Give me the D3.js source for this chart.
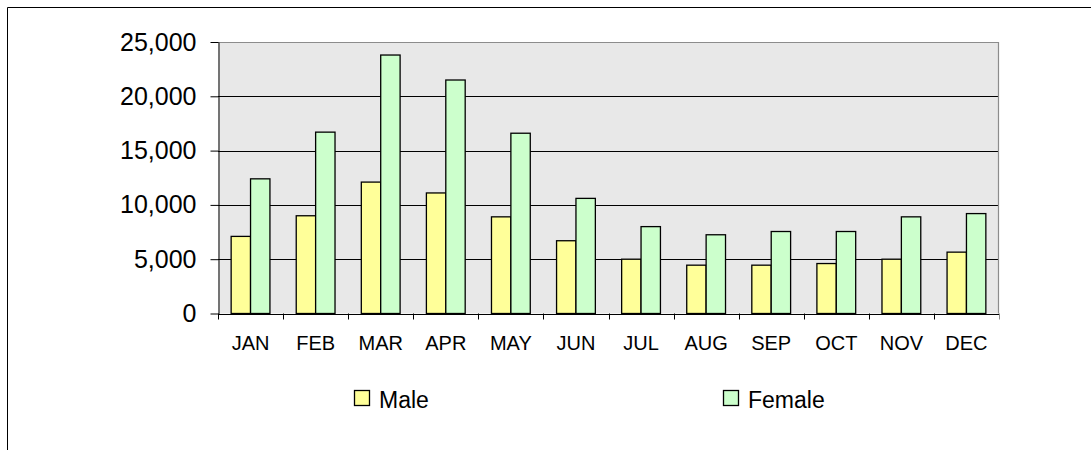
<!DOCTYPE html>
<html>
<head>
<meta charset="utf-8">
<script src="https://cdn.jsdelivr.net/npm/d3@7"></script>
<style>
  body { margin: 0; background: #fff; }
  svg { display: block; font-family: Arial, "Liberation Sans", sans-serif; }
</style>
</head>
<body>
<svg id="chart" width="1091" height="450"></svg>
<script>
// values
const months = ["JAN", "FEB", "MAR", "APR", "MAY", "JUN", "JUL", "AUG", "SEP", "OCT", "NOV", "DEC"];
const male = [7100, 9000, 12100, 11100, 8900, 6700, 5000, 4450, 4450, 4600, 5000, 5650];
const female = [12400, 16700, 23800, 21500, 16600, 10600, 8000, 7250, 7550, 7550, 8900, 9200];
const seriesNames = ["Male", "Female"];
const seriesColors = ["#ffff99", "#ccffcc"];
const yTicks = [0, 5000, 10000, 15000, 20000, 25000];

const svg = d3.select("#chart");

// plot box
const plotLeft = 218, plotRight = 999, plotTop = 42, plotBottom = 313.5;

// outer frame (only left and top edges show)
svg.append("path")
  .attr("d", "M7.5,450 L7.5,7.5 L1091,7.5")
  .attr("fill", "none").attr("stroke", "#000").attr("stroke-width", 1);

const x = d3.scaleBand().domain(months).range([plotLeft, plotRight]).padding(0);
const bw = x.bandwidth();
const x1 = d3.scaleBand().domain(seriesNames).range([bw * 0.202, bw * 0.798]).padding(0);
const y = d3.scaleLinear().domain([0, 25000]).range([plotBottom, plotTop]);

// plot background
svg.append("rect")
  .attr("x", plotLeft).attr("y", plotTop)
  .attr("width", plotRight - plotLeft).attr("height", plotBottom - plotTop)
  .attr("fill", "#e8e8e8");

// gridlines
svg.append("g").selectAll("line")
  .data(yTicks.filter(d => d > 0 && d < 25000))
  .join("line")
  .attr("x1", plotLeft).attr("x2", plotRight)
  .attr("y1", d => Math.round(y(d)) + 0.5).attr("y2", d => Math.round(y(d)) + 0.5)
  .attr("stroke", "#000").attr("stroke-width", 1);

// grey border top + right
svg.append("path")
  .attr("d", `M${plotLeft},${plotTop + 0.5} L${plotRight - 0.5},${plotTop + 0.5} L${plotRight - 0.5},${plotBottom}`)
  .attr("fill", "none").attr("stroke", "#8c8c8c").attr("stroke-width", 1.2);

// bars
const rows = months.map((m, i) => ({ month: m, values: [male[i], female[i]] }));
svg.append("g").selectAll("g")
  .data(rows)
  .join("g")
  .attr("transform", d => `translate(${x(d.month)},0)`)
  .selectAll("rect")
  .data(d => d.values.map((v, j) => ({ name: seriesNames[j], value: v, color: seriesColors[j] })))
  .join("rect")
  .attr("x", d => x1(d.name))
  .attr("width", x1.bandwidth())
  .attr("y", d => y(d.value))
  .attr("height", d => y(0) - y(d.value))
  .attr("fill", d => d.color)
  .attr("stroke", "#000").attr("stroke-width", 1.3);

// y axis
const yAxis = svg.append("g")
  .attr("transform", `translate(${plotLeft + 0.5},0)`)
  .call(d3.axisLeft(y).tickValues(yTicks).tickFormat(d3.format(",")).tickSize(8).tickSizeOuter(0).tickPadding(14));
yAxis.select(".domain").attr("stroke", "#000");
yAxis.selectAll(".tick line").attr("stroke", "#000");
yAxis.selectAll("text").attr("font-size", 25).attr("fill", "#000")
  .attr("font-family", "Arial, 'Liberation Sans', sans-serif");

// x axis line and boundary ticks
svg.append("line")
  .attr("x1", plotLeft).attr("x2", plotRight)
  .attr("y1", Math.round(plotBottom) + 0.5).attr("y2", Math.round(plotBottom) + 0.5)
  .attr("stroke", "#000").attr("stroke-width", 1.2);
const bounds = months.map(m => x(m)).concat([x(months[months.length - 1]) + bw]);
svg.append("g").selectAll("line")
  .data(bounds)
  .join("line")
  .attr("x1", d => Math.round(d) + 0.5).attr("x2", d => Math.round(d) + 0.5)
  .attr("y1", plotBottom).attr("y2", plotBottom + 6)
  .attr("stroke", (d, i) => i === bounds.length - 1 ? "#8c8c8c" : "#000");

// month labels
svg.append("g").selectAll("text")
  .data(months)
  .join("text")
  .attr("x", d => x(d) + bw / 2)
  .attr("y", 350)
  .attr("text-anchor", "middle")
  .attr("font-size", 20)
  .attr("fill", "#000")
  .text(d => d);

// legend
const legendX = [354.5, 723.5];
const legend = svg.append("g").selectAll("g")
  .data(seriesNames)
  .join("g")
  .attr("transform", (d, i) => `translate(${legendX[i]},390.5)`);
legend.append("rect")
  .attr("width", 15).attr("height", 15)
  .attr("fill", (d, i) => seriesColors[i])
  .attr("stroke", "#000").attr("stroke-width", 1.3);
legend.append("text")
  .attr("x", 24.5).attr("y", 17.2)
  .attr("font-size", 23)
  .attr("fill", "#000")
  .text(d => d);
</script>
</body>
</html>
